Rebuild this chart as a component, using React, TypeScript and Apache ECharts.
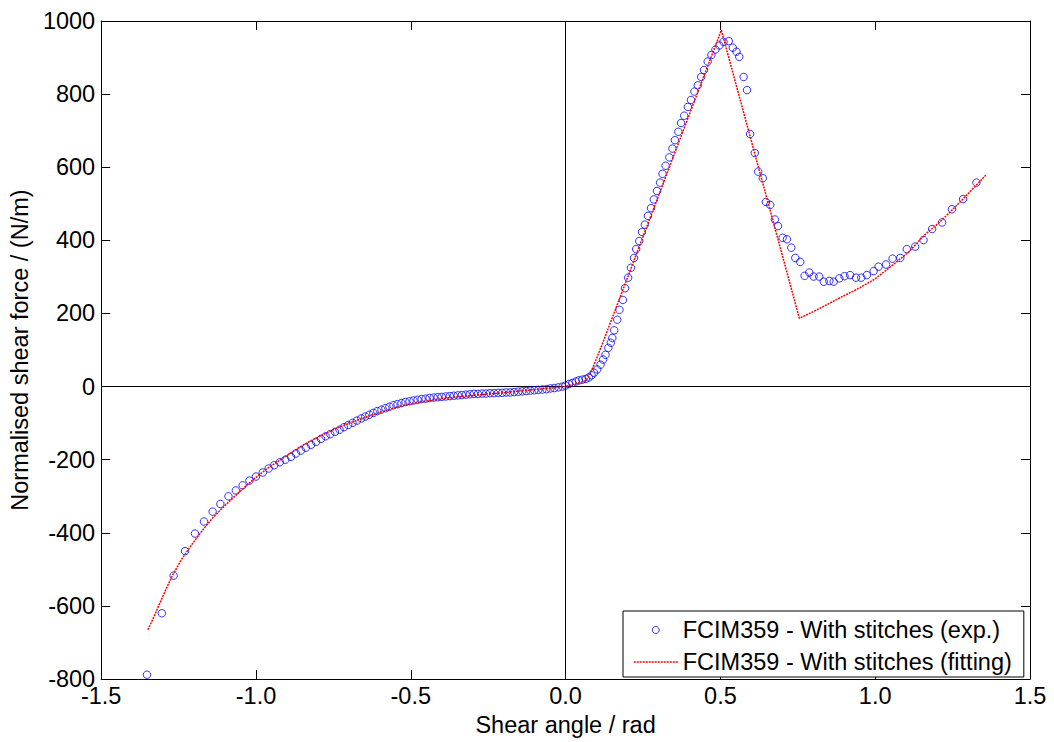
import React, { useEffect, useRef } from "react";
import * as echarts from "echarts";

const xTicks = { min: -1.5, max: 1.5, interval: 0.5 };
const yTicks = { min: -800, max: 1000, interval: 200 };

const seriesNames = [
  "FCIM359 - With stitches (exp.)",
  "FCIM359 - With stitches (fitting)",
];

const expAngle = [
  -1.352, -1.304, -1.266, -1.229, -1.197, -1.168, -1.14, -1.115, -1.089, -1.065,
  -1.043, -1.021, -1.0, -0.978, -0.959, -0.941, -0.923, -0.905, -0.887, -0.871,
  -0.855, -0.839, -0.822, -0.806, -0.79, -0.775, -0.76, -0.745, -0.73, -0.716,
  -0.702, -0.688, -0.674, -0.66, -0.647, -0.634, -0.621, -0.608, -0.595, -0.582,
  -0.569, -0.556, -0.543, -0.53, -0.517, -0.504, -0.491, -0.478, -0.465, -0.452,
  -0.439, -0.426, -0.413, -0.4, -0.387, -0.374, -0.361, -0.348, -0.335, -0.322,
  -0.309, -0.296, -0.283, -0.27, -0.257, -0.244, -0.231, -0.218, -0.205, -0.192,
  -0.179, -0.166, -0.153, -0.14, -0.127, -0.114, -0.101, -0.088, -0.075, -0.062,
  -0.049, -0.036, -0.023, -0.01,
  0.0, 0.011, 0.022, 0.033, 0.043, 0.054, 0.065, 0.075, 0.084, 0.092,
  0.102, 0.113, 0.121, 0.129, 0.138, 0.146, 0.151, 0.157, 0.167, 0.174,
  0.185, 0.192, 0.202, 0.211, 0.221, 0.228, 0.238, 0.247, 0.256, 0.266,
  0.276, 0.285, 0.295, 0.305, 0.313, 0.323, 0.335, 0.345, 0.353, 0.364,
  0.373, 0.383, 0.395, 0.405, 0.416, 0.427, 0.438, 0.447, 0.459, 0.471,
  0.484, 0.497, 0.51, 0.527, 0.54, 0.552, 0.561, 0.575, 0.586, 0.596,
  0.611, 0.622, 0.637, 0.647, 0.661, 0.676, 0.686, 0.701, 0.715, 0.729,
  0.742, 0.758, 0.772, 0.787, 0.801, 0.819, 0.834, 0.852, 0.866, 0.884,
  0.901, 0.919, 0.938, 0.955, 0.973, 0.995, 1.011, 1.035, 1.056, 1.081,
  1.102, 1.129, 1.156, 1.184, 1.216, 1.248, 1.284, 1.327,
];

const expForce = [
  -788, -620, -517, -450, -402, -369, -342, -321, -300, -284,
  -270, -257, -246, -235, -224, -215, -207, -200, -192, -183,
  -175, -167, -159, -151, -143, -136, -130, -124, -118, -111,
  -105, -99, -93, -87, -82, -77, -72, -67, -63, -59,
  -55, -51, -48, -45, -42, -40, -38, -36, -34, -33,
  -31, -30, -29, -28, -27, -26, -25, -24, -23, -22,
  -21, -20, -20, -19, -19, -18, -18, -17, -17, -16,
  -16, -15, -14, -13, -12, -11, -10, -9, -8, -7,
  -5, -4, -2, 0,
  3, 7, 10, 14, 17, 19, 21, 25, 31, 38,
  47, 60, 74, 87, 106, 120, 133, 154, 183, 210,
  237, 269, 298, 325, 352, 376, 398, 423, 443, 467,
  488, 512, 535, 558, 582, 604, 627, 651, 674, 697,
  721, 741, 765, 784, 807, 824, 847, 866, 889, 907,
  922, 933, 943, 945, 927, 916, 902, 847, 811, 691,
  639, 588, 570, 505, 497, 457, 439, 407, 403, 380,
  352, 341, 303, 312, 301, 301, 287, 289, 287, 296,
  302, 305, 298, 298, 305, 316, 328, 334, 350, 352,
  376, 383, 401, 431, 449, 485, 513, 558,
];

const fitAngle = [
  -1.349, -1.33, -1.312, -1.29, -1.269, -1.24, -1.204, -1.17, -1.14, -1.1,
  -1.065, -1.03, -1.0, -0.96, -0.914, -0.88, -0.85, -0.82, -0.785, -0.742,
  -0.699, -0.634, -0.58, -0.527, -0.47, -0.419, -0.36, -0.312, -0.26, -0.204,
  -0.15, -0.097, -0.05, 0.0, 0.065, 0.075, 0.092, 0.118, 0.503, 0.755,
  0.8, 0.839, 0.893, 0.95, 1.0, 1.05, 1.108, 1.16, 1.215, 1.28, 1.357,
];

const fitForce = [
  -665, -630, -595, -553, -515, -472, -428, -390, -359, -325,
  -297, -270, -248, -222, -196, -177, -161, -147, -132, -115,
  -100, -80, -65, -52, -42, -35, -29, -25, -21, -17,
  -12, -8, -4, 0, 16, 28, 60, 115, 975, 187,
  205, 222, 246, 270, 295, 328, 368, 415, 455, 510, 578,
];

const FONT = "'Liberation Sans', Arial, Helvetica, sans-serif";
const FS = 23.5;

export default function App() {
  const ref = useRef<HTMLDivElement>(null);

  useEffect(() => {
    document.body.style.margin = "0";
    if (!ref.current) return;
    const chart = echarts.init(ref.current, undefined, { renderer: "svg" });

    const expData = expAngle.map((x, i) => [x, expForce[i]]);
    const fitData = fitAngle.map((x, i) => [x, fitForce[i]]);

    const axisCommon = {
      axisLine: { show: true, onZero: false, lineStyle: { color: "#000", width: 1 } },
      axisTick: { show: true, inside: true, length: 9, lineStyle: { color: "#000" } },
      splitLine: { show: false },
    };

    chart.setOption({
      animation: false,
      backgroundColor: "#fff",
      textStyle: { fontFamily: FONT },
      grid: { left: 98, right: 24, top: 21, bottom: 59 },
      legend: {
        left: 623,
        top: 611,
        orient: "vertical",
        backgroundColor: "#fff",
        borderColor: "#000",
        borderWidth: 1,
        borderRadius: 0,
        padding: [6, 12, 2, 10],
        itemWidth: 44,
        itemHeight: 7,
        itemGap: 6,
        textStyle: { fontFamily: FONT, fontSize: FS, color: "#000", lineHeight: 26 },
        data: [
          {
            name: seriesNames[0],
            icon: "circle",
            itemStyle: { color: "rgba(0,0,0,0)", borderColor: "#0000ff", borderWidth: 1 },
          },
          {
            name: seriesNames[1],
            icon: "inherit",
            itemStyle: { opacity: 0, color: "rgba(0,0,0,0)", borderWidth: 0 },
            lineStyle: { color: "#ff0000", width: 1.5, type: [2, 1], opacity: 1 },
          },
        ],
      },
      xAxis: [
        {
          type: "value",
          position: "bottom",
          min: xTicks.min,
          max: xTicks.max,
          interval: xTicks.interval,
          name: "Shear angle / rad",
          nameLocation: "middle",
          nameGap: 25,
          nameTextStyle: { fontFamily: FONT, fontSize: FS, color: "#000" },
          axisLabel: {
            fontFamily: FONT,
            fontSize: FS,
            lineHeight: 18,
            color: "#000",
            margin: 8,
            formatter: (v: number) => v.toFixed(1),
          },
          ...axisCommon,
        },
        {
          type: "value",
          position: "top",
          min: xTicks.min,
          max: xTicks.max,
          interval: xTicks.interval,
          axisLabel: { show: false },
          ...axisCommon,
        },
      ],
      yAxis: [
        {
          type: "value",
          position: "left",
          min: yTicks.min,
          max: yTicks.max,
          interval: yTicks.interval,
          name: "Normalised shear force / (N/m)",
          nameLocation: "middle",
          nameGap: 65,
          nameTextStyle: { fontFamily: FONT, fontSize: FS, color: "#000" },
          axisLabel: {
            fontFamily: FONT,
            fontSize: FS,
            lineHeight: 18,
            color: "#000",
            margin: 6,
            formatter: (v: number) => String(v),
          },
          ...axisCommon,
        },
        {
          type: "value",
          position: "right",
          min: yTicks.min,
          max: yTicks.max,
          interval: yTicks.interval,
          axisLabel: { show: false },
          ...axisCommon,
        },
      ],
      series: [
        {
          name: seriesNames[0],
          type: "scatter",
          xAxisIndex: 0,
          yAxisIndex: 0,
          data: expData,
          symbol: "circle",
          symbolSize: 7.5,
          itemStyle: { color: "rgba(0,0,0,0)", borderColor: "#0000ff", borderWidth: 1 },
          z: 3,
          markLine: {
            silent: true,
            symbol: ["none", "none"],
            label: { show: false },
            lineStyle: { color: "#000", width: 1, type: "solid" },
            data: [{ xAxis: 0 }, { yAxis: 0 }],
            z: 1,
          },
        },
        {
          name: seriesNames[1],
          type: "line",
          xAxisIndex: 0,
          yAxisIndex: 0,
          data: fitData,
          symbol: "none",
          showSymbol: false,
          lineStyle: { color: "#ff0000", width: 1.5, type: [2, 1] },
          itemStyle: { color: "#ff0000" },
          z: 4,
        },
      ],
    });

    return () => chart.dispose();
  }, []);

  return <div ref={ref} style={{ width: 1054, height: 742 }} />;
}
